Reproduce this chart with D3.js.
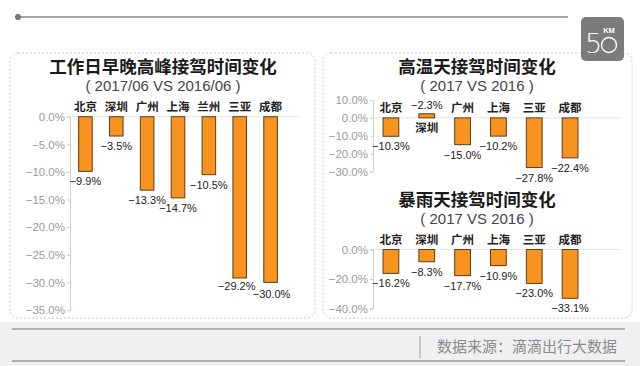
<!DOCTYPE html>
<html><head><meta charset="utf-8">
<script src="https://cdn.jsdelivr.net/npm/d3@7/dist/d3.min.js"></script>
<style>
html,body{margin:0;padding:0;background:#fff;}
svg{display:block;}
</style></head>
<body>
<svg id="c" width="640" height="366"></svg>
<script>
// ---- data ----
const peakCities = ["北京","深圳","广州","上海","兰州","三亚","成都"];
const peakValues = [-9.9,-3.5,-13.3,-14.7,-10.5,-29.2,-30.0];
const peakTicks = [0,-5,-10,-15,-20,-25,-30,-35];

const heatCities = ["北京","深圳","广州","上海","三亚","成都"];
const heatValues = [-10.3,2.3,-15.0,-10.2,-27.8,-22.4];   // bar as drawn
const heatLabels = ["-10.3","-2.3","-15.0","-10.2","-27.8","-22.4"]; // label as printed
const heatTicks = [10,0,-10,-20,-30];

const rainCities = ["北京","深圳","广州","上海","三亚","成都"];
const rainValues = [-16.2,-8.3,-17.7,-10.9,-23.0,-33.1];
const rainTicks = [0,-20,-40];

const svg = d3.select("#c");
const CJK = "'Noto Sans CJK SC','Noto Sans',sans-serif";
const NUM = "'Liberation Sans',Arial,sans-serif";
const fmt = v => (v<0?"\u2212":"") + Math.abs(v).toFixed(1) + "%";

// header line
svg.append("line").attr("x1",18).attr("x2",568).attr("y1",17).attr("y2",17)
  .attr("stroke","#888").attr("stroke-width",1.5);
svg.append("circle").attr("cx",18).attr("cy",17).attr("r",3).attr("fill","#777");

// panels
svg.append("rect").attr("x",10).attr("y",53).attr("width",305).attr("height",265).attr("rx",8)
  .attr("fill","#fff").attr("stroke","#c8c8c8").attr("stroke-dasharray","2,2");
svg.append("rect").attr("x",323).attr("y",53).attr("width",309).attr("height",265).attr("rx",8)
  .attr("fill","#fff").attr("stroke","#c8c8c8").attr("stroke-dasharray","2,2");

// logo
const lg = svg.append("g");
lg.append("rect").attr("x",581).attr("y",17).attr("width",43).attr("height",44).attr("rx",5).attr("fill","#7b7b7b");
lg.append("text").attr("x",585).attr("y",53).attr("font-family","'DejaVu Sans',sans-serif").attr("font-weight",200)
  .attr("font-size",27).attr("fill","#fff").text("5");
lg.append("circle").attr("cx",609).attr("cy",45).attr("r",7.5).attr("fill","none").attr("stroke","#fff").attr("stroke-width",1.4);
lg.append("text").attr("x",609).attr("y",33).attr("text-anchor","middle").attr("font-family",NUM).attr("font-weight","bold")
  .attr("font-size",7.5).attr("fill","#fff").text("KM");

// footer
svg.append("rect").attr("x",0).attr("y",322).attr("width",640).attr("height",44).attr("fill","#eff0f2");
svg.append("line").attr("x1",12).attr("x2",625).attr("y1",329).attr("y2",329).attr("stroke","#9c9c9c").attr("stroke-width",1.5);
svg.append("line").attr("x1",12).attr("x2",625).attr("y1",361).attr("y2",361).attr("stroke","#9c9c9c").attr("stroke-width",1.5);
svg.append("line").attr("x1",420).attr("x2",420).attr("y1",336).attr("y2",358).attr("stroke","#aaa").attr("stroke-width",1.2);
svg.append("text").attr("x",617).attr("y",352).attr("text-anchor","end").attr("font-family",CJK)
  .attr("font-size",15).attr("fill","#8a8a8a").text("数据来源：滴滴出行大数据");

function chart(o){
  const g = svg.append("g");
  g.append("text").attr("x",o.cx).attr("y",o.titleY).attr("text-anchor","middle").attr("font-family",CJK)
    .attr("font-weight","bold").attr("font-size",17.5).attr("fill","#1a1a1a").text(o.title);
  g.append("text").attr("x",o.cx).attr("y",o.subY).attr("text-anchor","middle").attr("font-family",NUM)
    .attr("font-size",15).attr("fill","#444").attr("xml:space","preserve").text(o.sub);
  const x = d3.scaleBand().domain(o.cities).range(o.xr).paddingInner(0.56).paddingOuter(0.28);
  const y = d3.scaleLinear().domain(o.dom).range(o.yr);
  // zero gridline
  g.append("line").attr("x1",o.xr[0]).attr("x2",o.gridEnd).attr("y1",y(0)).attr("y2",y(0))
    .attr("stroke","#e6e6e6").attr("stroke-width",1);
  const ax = g.append("g").attr("transform",`translate(${o.xr[0]},0)`)
    .call(d3.axisLeft(y).tickValues(o.ticks).tickSize(3).tickPadding(2).tickFormat(fmt));
  ax.select(".domain").attr("stroke","#cfcfcf");
  ax.selectAll(".tick line").attr("stroke","#cfcfcf");
  ax.selectAll("text").attr("font-family",NUM).attr("font-size",11.5).attr("fill","#9a9a9a");
  const bw = x.bandwidth();
  o.cities.forEach((c,i)=>{
    const v = o.values[i];
    const cx = x(c)+bw/2;
    g.append("rect").attr("x",x(c)).attr("width",bw)
      .attr("y",Math.min(y(0),y(v))).attr("height",Math.abs(y(v)-y(0)))
      .attr("fill","#f7931e").attr("stroke","#5e3d1c").attr("stroke-width",1);
    const lab = o.labels ? "\u2212"+o.labels[i].replace("-","")+"%" : fmt(v);
    const dy = o.labDy ? o.labDy[i] : 0;
    const dx = o.labDx ? o.labDx[i] : 0;
    if(v>=0){
      g.append("text").attr("x",cx).attr("y",y(v)-5).attr("text-anchor","middle").attr("font-family",NUM)
        .attr("font-size",11).attr("fill","#222").text(lab);
      g.append("text").attr("x",cx).attr("y",y(0)+14).attr("text-anchor","middle").attr("font-family",CJK)
        .attr("font-weight","bold").attr("font-size",11.5).attr("fill","#222").text(c);
    } else {
      g.append("text").attr("x",cx+dx).attr("y",y(v)+14+dy).attr("text-anchor","middle").attr("font-family",NUM)
        .attr("font-size",11).attr("fill","#222").text(lab);
      g.append("text").attr("x",cx).attr("y",y(0)-6).attr("text-anchor","middle").attr("font-family",CJK)
        .attr("font-weight","bold").attr("font-size",11.5).attr("fill","#222").text(c);
    }
  });
}

chart({title:"工作日早晚高峰接驾时间变化", sub:"( 2017/06 VS 2016/06 )", cx:163, titleY:73, subY:91,
  cities:peakCities, values:peakValues, ticks:peakTicks, dom:[-35,0], yr:[310,116.7], xr:[70,286], gridEnd:300,
  labDy:[0,0,0,0,0,-2,2], labDx:[0,0,0,0,0,-3,1]});
chart({title:"高温天接驾时间变化", sub:"( 2017 VS 2016 )", cx:477, titleY:73, subY:91,
  cities:heatCities, values:heatValues, labels:heatLabels, ticks:heatTicks, dom:[-30,10], yr:[171.5,100], xr:[373,588], gridEnd:620});
chart({title:"暴雨天接驾时间变化", sub:"( 2017 VS 2016 )", cx:477, titleY:206, subY:224,
  cities:rainCities, values:rainValues, ticks:rainTicks, dom:[-40,0], yr:[308.5,249.5], xr:[373,588], gridEnd:620});
</script>
</body></html>
